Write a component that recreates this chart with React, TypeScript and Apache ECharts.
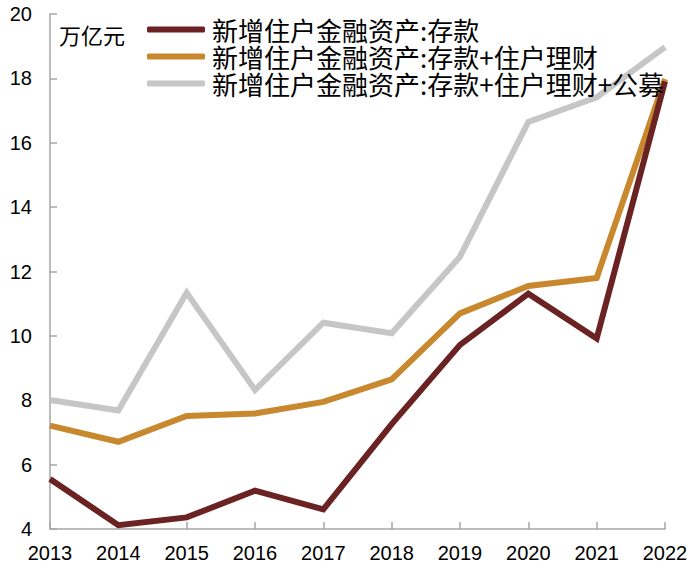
import React, { useEffect, useRef } from 'react';
import * as echarts from 'echarts';

const years = ['2013', '2014', '2015', '2016', '2017', '2018', '2019', '2020', '2021', '2022'];
const deposits = [5.55, 4.12, 4.36, 5.19, 4.61, 7.26, 9.72, 11.31, 9.92, 17.9];
const depositsWealth = [7.21, 6.71, 7.51, 7.59, 7.95, 8.65, 10.7, 11.55, 11.8, 17.98];
const depositsWealthFunds = [8.01, 7.68, 11.34, 8.32, 10.41, 10.08, 12.46, 16.65, 17.41, 18.97];
const seriesNames = [
    '新增住户金融资产:存款',
    '新增住户金融资产:存款+住户理财',
    '新增住户金融资产:存款+住户理财+公募',
];
const seriesColors = ['#6b2222', '#c8882e', '#c6c6c6'];

export default function App() {
    const chartRef = useRef<HTMLDivElement>(null);

    useEffect(() => {
        const chart = echarts.init(chartRef.current!, null, { renderer: 'svg' });
        const axisColor = '#a6a6a6';
        const labelFont = { color: '#000', fontSize: 20, fontFamily: '"Liberation Sans", Arial, sans-serif' };
        const values = [deposits, depositsWealth, depositsWealthFunds];

        chart.setOption({
            animation: false,
            grid: { left: 50, right: 35, top: 14, bottom: 44, containLabel: false },
            legend: {
                orient: 'vertical',
                left: 147,
                top: 16,
                itemWidth: 58,
                itemHeight: 6,
                itemGap: 0,
                icon: 'roundRect',
                padding: 0,
                textStyle: {
                    color: '#000',
                    fontSize: 26,
                    lineHeight: 27,
                    fontFamily: '"Noto Sans CJK SC", sans-serif',
                    padding: [0, 0, 0, 2],
                },
                data: seriesNames,
            },
            graphic: [
                {
                    type: 'text',
                    left: 59,
                    top: 23,
                    style: {
                        text: '万亿元',
                        fill: '#000',
                        fontSize: 22,
                        fontFamily: '"Noto Sans CJK SC", sans-serif',
                    },
                },
            ],
            xAxis: {
                type: 'category',
                data: years,
                boundaryGap: false,
                axisLine: { lineStyle: { color: axisColor, width: 1.5 } },
                axisTick: { inside: true, length: 7, lineStyle: { color: axisColor, width: 1.5 } },
                axisLabel: { ...labelFont, margin: 14 },
                splitLine: { show: false },
            },
            yAxis: {
                type: 'value',
                min: 4,
                max: 20,
                interval: 2,
                axisLine: { show: true, lineStyle: { color: axisColor, width: 1.5 } },
                axisTick: { show: true, inside: true, length: 7, lineStyle: { color: axisColor, width: 1.5 } },
                axisLabel: { ...labelFont, margin: 18 },
                splitLine: { show: false },
            },
            // grey drawn first, maroon on top
            series: [2, 1, 0].map((i) => ({
                name: seriesNames[i],
                type: 'line',
                data: values[i],
                z: 3 - i,
                showSymbol: false,
                symbol: 'none',
                itemStyle: { color: seriesColors[i] },
                lineStyle: { width: 6, color: seriesColors[i], cap: 'butt', join: 'miter' },
            })),
        });

        return () => {
            chart.dispose();
        };
    }, []);

    return <div ref={chartRef} style={{ width: 700, height: 573, position: 'absolute', left: 0, top: 0 }} />;
}
